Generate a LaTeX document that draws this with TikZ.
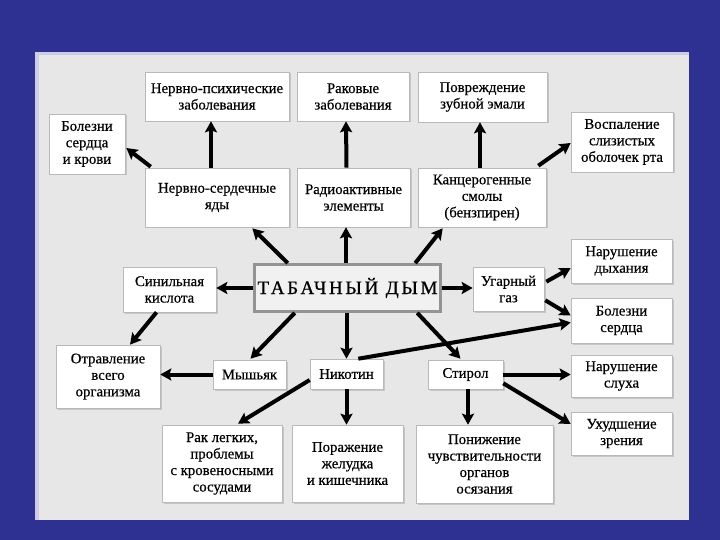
\documentclass[tikz,border=0pt]{standalone}
\usepackage{fontspec}
\setmainfont{Liberation Serif}
\newfontfamily\boxfont{Liberation Serif}[FakeBold=0.5]
\newfontfamily\titlefont{Liberation Serif}[FakeBold=0.8,LetterSpace=14]
\usetikzlibrary{arrows.meta,calc,shadows}
\definecolor{bgblue}{RGB}{46,49,146}
\definecolor{panelgray}{RGB}{231,231,231}
\definecolor{edgelav}{RGB}{205,205,235}
\newcommand\bxn[6]{\node[bx,minimum width=#4pt,minimum height=#5pt] (#1) at (#2,#3) {#6};}
\begin{document}
\begin{tikzpicture}[x=1pt,y=-1pt,
  bx/.style={draw=gray!55, fill=white, line width=0.6pt, align=center,
    font=\boxfont\fontsize{14.8}{16.5}\selectfont, inner sep=1pt,
    drop shadow={shadow xshift=1.5pt, shadow yshift=-1.5pt, fill=gray!70, opacity=0.5}},
  ar/.style={line width=4pt, -{Stealth[length=11pt,width=12pt,inset=2pt]}}]
\useasboundingbox (0,0) rectangle (720,540);
\fill[bgblue] (0,0) rectangle (720,540);
\fill[edgelav] (35,52) rectangle (689,520);
\fill[panelgray] (39,55) rectangle (689,520);
% nodes
\bxn{np}{217}{96.5}{144}{49}{Нервно-психические\\заболевания}
\bxn{rak}{353}{96.5}{112}{49}{Раковые\\заболевания}
\bxn{zub}{482.5}{97}{129}{50}{Повреждение\\зубной эмали}
\bxn{bsk}{87}{144}{76}{60}{Болезни\\сердца\\и крови}
\bxn{vos}{622}{142}{102}{60}{Воспаление\\слизистых\\оболочек рта}
\bxn{nsy}{217}{197.5}{144}{59}{Нервно-сердечные\\яды}
\bxn{rad}{353.5}{197.5}{113}{59}{Радиоактивные\\элементы}
\bxn{kan}{482}{197.5}{128}{59}{Канцерогенные\\смолы\\(бензпирен)}
\bxn{sin}{169.5}{289.5}{93}{45}{Синильная\\кислота}
\node[draw=gray!85, fill=panelgray!60!white, line width=2.8pt, minimum width=186pt, minimum height=47pt,
  font=\titlefont\fontsize{19}{22}\selectfont] (td) at (347.5,288) {ТАБАЧНЫЙ ДЫМ};
\bxn{ug}{508.5}{289}{71}{44}{Угарный\\газ}
\bxn{nd}{621.5}{261}{101}{44}{Нарушение\\дыхания}
\bxn{bs}{621.5}{320.5}{101}{45}{Болезни\\сердца}
\bxn{otr}{108}{376.5}{104}{63}{Отравление\\всего\\организма}
\bxn{mys}{249.5}{374.5}{73}{29}{Мышьяк}
\bxn{nik}{346.5}{374}{73}{30}{Никотин}
\bxn{sti}{465.5}{374.5}{75}{29}{Стирол}
\bxn{nsl}{621.5}{376}{101}{42}{Нарушение\\слуха}
\bxn{uz}{621.5}{433.5}{101}{43}{Ухудшение\\зрения}
\bxn{rl}{222}{463.5}{120}{77}{Рак легких,\\проблемы\\с кровеносными\\сосудами}
\bxn{por}{347.5}{463.5}{111}{77}{Поражение\\желудка\\и кишечника}
\bxn{pon}{484.5}{464}{137}{78}{Понижение\\чувствительности\\органов\\осязания}
% arrows
\draw[ar] ($(nsy.north)+(-6,0)$) -- ($(np.south)+(-6,0)$);
\draw[ar] ($(nsy.north west)+(6,-1)$) -- ($(bsk.east)+(1,4)$);
\draw[ar] ($(rad.north)+(-7,0)$) -- ($(rak.south)+(-7,0)$);
\draw[ar] ($(kan.north)+(-2,0)$) -- ($(zub.south)+(-2.5,0)$);
\draw[ar] ($(kan.north east)+(-8,-2)$) -- ($(vos.west)+(0,1)$);
\draw[ar] ($(td.north west)+(35,0)$) -- ($(nsy.south east)+(-37,1)$);
\draw[ar] ($(td.north)+(-1.5,0)$) -- ($(rad.south)+(-7.5,0)$);
\draw[ar] ($(td.north east)+(-27,0)$) -- ($(kan.south west)+(25,1)$);
\draw[ar] (td.west) -- (td.west -| sin.east);
\draw[ar] (td.east) -- (td.east -| ug.west);
\draw[ar] ($(td.south west)+(42,0)$) -- ($(mys.north)+(1,-1)$);
\draw[ar] ($(td.south)+(-1,0)$) -- (nik.north);
\draw[ar] ($(td.south east)+(-25,0)$) -- ($(sti.north)+(-5,-1)$);
\draw[ar] ($(sin.south)+(-13,0)$) -- ($(otr.north)+(22,0)$);
\draw[ar] (mys.west) -- (mys.west -| otr.east);
\draw[ar] ($(ug.north east)+(2,15)$) -- ($(nd.west)+(0,7)$);
\draw[ar] ($(ug.south east)+(1,-11)$) -- ($(bs.west)+(0,-5)$);
\draw[ar] ($(nik.north east)+(-25,0)$) -- ($(bs.west)+(0,2)$);
\draw[ar] ($(nik.west)+(0,6)$) -- ($(rl.north)+(16,-1)$);
\draw[ar] (nik.south) -- (nik.south |- por.north);
\draw[ar] ($(sti.south)+(2.5,0)$) -- ($(sti.south |- pon.north)+(2.5,0)$);
\draw[ar] (sti.east) -- (sti.east -| nsl.west);
\draw[ar] ($(sti.south east)+(0,-6)$) -- ($(uz.west)+(0,-9.5)$);
\end{tikzpicture}
\end{document}
